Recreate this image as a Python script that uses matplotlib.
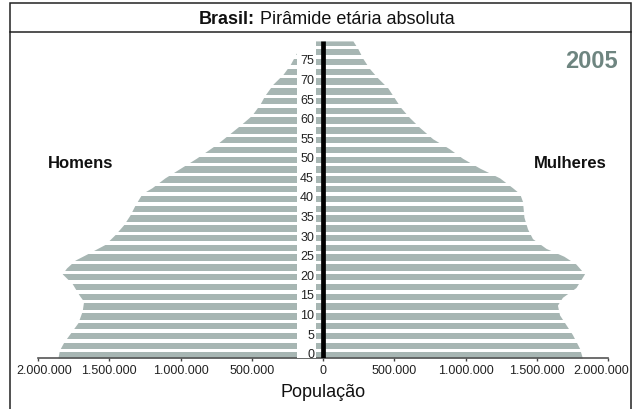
import numpy as np
import matplotlib
matplotlib.use("Agg")
import matplotlib.pyplot as plt
from matplotlib.patches import Rectangle
from matplotlib.lines import Line2D
from matplotlib.ticker import FuncFormatter
import matplotlib.transforms as mtransforms

plt.rcParams["font.family"] = ["Liberation Sans", "DejaVu Sans"]

# outline of the pyramid (age, persons)
men_ages = [-1, 1, 3, 5, 8, 11, 13.5, 15, 18, 20.5, 22, 24, 25.5, 28, 30.5, 33,
            35.5, 38, 41, 42.5, 45, 47.5, 50, 53.5, 56, 58.5, 61, 64, 66, 69,
            71.5, 74, 77, 80]
men_pop = [1860000, 1850000, 1820000, 1780000, 1720000, 1690000, 1680000,
           1710000, 1760000, 1830000, 1800000, 1740000, 1660000, 1530000,
           1460000, 1400000, 1355000, 1320000, 1270000, 1200000, 1110000,
           1000000, 890000, 750000, 665000, 580000, 500000, 440000, 410000,
           350000, 280000, 230000, 185000, 165000]

women_ages = [-1, 1.5, 5, 7.5, 10, 12.5, 14.5, 17, 20.5, 23, 25, 27, 29.5, 32,
              35, 39, 41, 42.5, 45, 47.5, 50, 52.5, 55, 58, 60.5, 63, 65.5,
              68, 70.5, 73, 75.5, 78, 80]
women_pop = [1820000, 1800000, 1750000, 1705000, 1660000, 1645000, 1680000,
             1775000, 1835000, 1775000, 1690000, 1565000, 1470000, 1435000,
             1410000, 1400000, 1380000, 1330000, 1240000, 1100000, 980000,
             885000, 770000, 675000, 605000, 545000, 500000, 455000, 385000,
             325000, 280000, 245000, 210000]

age_labels = list(range(0, 80, 5))
x_ticks = [-2000000, -1500000, -1000000, -500000, 0, 500000, 1000000,
           1500000, 2000000]

BAR = "#a7b6b3"
W, H = 636, 410


def fx(x):
    return x / W


def fy(y):
    return 1 - y / H


fig = plt.figure(figsize=(W / 100, H / 100), dpi=100)
ax = fig.add_axes([fx(38), fy(359), 570 / W, 321 / H])

ax.fill_betweenx(men_ages, 0, -np.array(men_pop), color=BAR, lw=0, zorder=1)
ax.fill_betweenx(women_ages, 0, women_pop, color=BAR, lw=0, zorder=1)

# white stripes across the filled area
for start in np.arange(0.45, 80, 2.5):
    ax.axhspan(start, start + 0.85, color="white", lw=0, zorder=2)

# white strip behind the age labels
ax.axvspan(-182000, -49000, color="white", lw=0, zorder=3)
ax.vlines(0, -1, 80, color="black", lw=3.4, zorder=4)

for a in age_labels:
    ax.text(-63000, a, str(a), ha="right", va="center", fontsize=9,
            color="#222222", zorder=5)

ax.set_xlim(-2000000, 2000000)
ax.set_ylim(-1, 81)
ax.set_xticks(x_ticks)
ax.xaxis.set_major_formatter(
    FuncFormatter(lambda v, p: f"{abs(v):,.0f}".replace(",", ".")))
ax.tick_params(axis="x", length=2.5, width=1, color="#444444", pad=1.5,
               labelsize=9, labelcolor="#222222")
ax.set_yticks([])
for side in ["left", "right", "top"]:
    ax.spines[side].set_visible(False)
ax.spines["bottom"].set_color("#555555")
ax.spines["bottom"].set_linewidth(1.2)

# pull the outer tick labels inside the frame
labels = ax.get_xticklabels()
shift = 6.5 / 100
labels[0].set_transform(labels[0].get_transform() +
                        mtransforms.ScaledTranslation(shift, 0, fig.dpi_scale_trans))
labels[-1].set_transform(labels[-1].get_transform() +
                         mtransforms.ScaledTranslation(-shift, 0, fig.dpi_scale_trans))

ax.set_xlabel("População", fontsize=13, color="#111111")
ax.xaxis.set_label_coords(0.5, (359 - 397.3) / 321)
ax.xaxis.label.set_verticalalignment("baseline")

fig.text(fx(618), fy(68), "2005", ha="right", va="baseline", fontsize=17,
         fontweight="bold", color="#6e8580")
fig.text(fx(48), fy(168), "Homens", ha="left", va="baseline", fontsize=12,
         fontweight="bold", color="#111111")
fig.text(fx(534), fy(168), "Mulheres", ha="left", va="baseline", fontsize=12,
         fontweight="bold", color="#111111")

# frame and title box
fig.add_artist(Rectangle((fx(10), fy(33)), fx(631) - fx(10), fy(4) - fy(33),
                         transform=fig.transFigure, fill=False,
                         edgecolor="#222222", lw=1.1))
for xv in (10, 631):
    fig.add_artist(Line2D([fx(xv), fx(xv)], [fy(33), 0],
                          transform=fig.transFigure, color="#222222", lw=1.1))

renderer = fig.canvas.get_renderer()
t1 = fig.text(fx(199), fy(24.5), "Brasil:", ha="left", va="baseline",
              fontsize=13, fontweight="bold", color="#111111")
bb = t1.get_window_extent(renderer)
fig.text(bb.x1 / fig.bbox.width, fy(24.5), " Pirâmide etária absoluta",
         ha="left", va="baseline", fontsize=13, color="#111111")

fig.savefig("out.png", dpi=100)
